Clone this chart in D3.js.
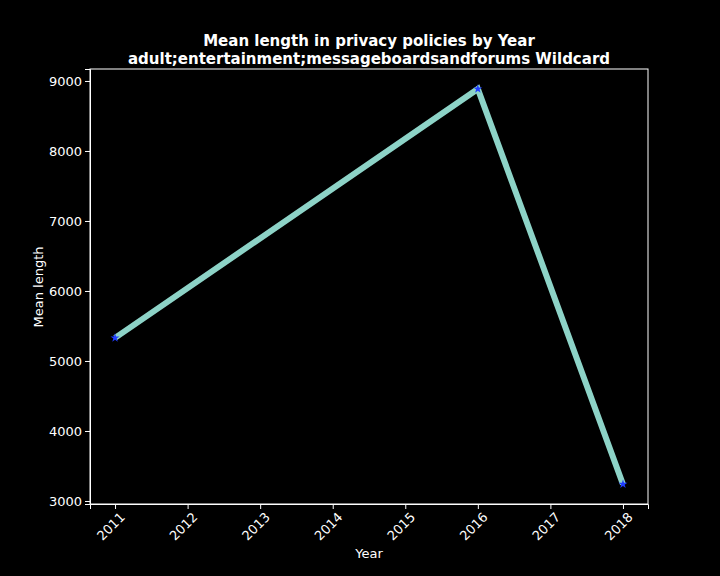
<!doctype html>
<meta charset="utf-8">
<style>
 body { margin: 0; background: #000; }
 text { font-family: "DejaVu Sans", sans-serif; fill: #fff; }
 .axis path, .axis line { stroke: #fff; }
</style>
<svg width="720" height="576"></svg>
<script src="https://d3js.org/d3.v7.min.js"></script>
<script>
 var years = [2011, 2016, 2018];
 var meanLength = [5330, 8886, 3240];
 var yTicks = [3000, 4000, 5000, 6000, 7000, 8000, 9000];

 var svg = d3.select('svg');
 var margin = { top: 69, left: 90, bottom: 72, right: 72 };
 var width = 720, height = 576;

 var x = d3.scaleLinear().domain([2010.655, 2018.345]).range([margin.left, width - margin.right]);
 var y = d3.scaleLinear().domain([2957, 9171]).range([height - margin.bottom, margin.top]);

 svg.append('rect').attr('width', width).attr('height', height).attr('fill', '#000');

 var gx = svg.append('g').attr('class', 'axis')
   .attr('transform', 'translate(0,' + (height - margin.bottom) + ')')
   .call(d3.axisBottom(x).tickValues(d3.range(2011, 2019)).tickFormat(d3.format('d')).tickSizeOuter(0).tickSize(5));
 gx.selectAll('text').attr('transform', 'rotate(-45)').attr('text-anchor', 'end')
   .attr('dx', '-0.2em').attr('dy', '0.7em');

 var gy = svg.append('g').attr('class', 'axis')
   .attr('transform', 'translate(' + margin.left + ',0)')
   .call(d3.axisLeft(y).tickValues(yTicks).tickFormat(d3.format('d')).tickSizeOuter(0).tickSize(5));

 svg.selectAll('.axis text').style('font-size', '13px').style('font-family', '"DejaVu Sans", sans-serif').attr('fill', '#fff');

 svg.append('rect').attr('x', margin.left).attr('y', margin.top)
   .attr('width', width - margin.left - margin.right)
   .attr('height', height - margin.top - margin.bottom)
   .attr('fill', 'none').attr('stroke', '#fff');

 var pts = years.map(function(d, i) { return [d, meanLength[i]]; });
 svg.append('path').datum(pts)
   .attr('d', d3.line().x(function(d) { return x(d[0]); }).y(function(d) { return y(d[1]); }))
   .attr('fill', 'none').attr('stroke', '#8dd3c7').attr('stroke-width', 6);

 svg.selectAll('.pt').data(pts).enter().append('path')
   .attr('transform', function(d) { return 'translate(' + x(d[0]) + ',' + y(d[1]) + ')'; })
   .attr('d', d3.symbol().type(d3.symbolStar).size(25))
   .attr('fill', '#1f3cff');

 svg.append('text').attr('x', 369).attr('y', 46).attr('text-anchor', 'middle')
   .style('font-size', '15px').style('font-weight', 'bold').text('Mean length in privacy policies by Year');
 svg.append('text').attr('x', 369).attr('y', 64).attr('text-anchor', 'middle')
   .style('font-size', '15px').style('font-weight', 'bold').text('adult;entertainment;messageboardsandforums Wildcard');

 svg.append('text').attr('x', 369).attr('y', 558).attr('text-anchor', 'middle')
   .style('font-size', '13px').text('Year');
 svg.append('text').attr('transform', 'translate(43,287) rotate(-90)').attr('text-anchor', 'middle')
   .style('font-size', '13px').text('Mean length');
</script>
